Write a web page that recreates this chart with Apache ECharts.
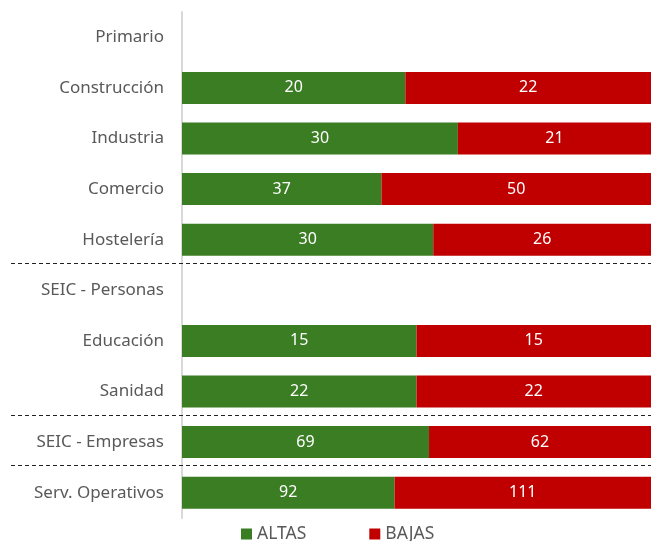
<!DOCTYPE html>
<html>
<head>
<meta charset="utf-8">
<script src="https://cdn.jsdelivr.net/npm/echarts@6/dist/echarts.min.js"></script>
<style>
html,body{margin:0;padding:0;background:#fff;}
#chart{width:651px;height:541px;}
</style>
</head>
<body>
<div id="chart"></div>
<script>
const categories = ['Primario','Construcción','Industria','Comercio','Hostelería','SEIC - Personas','Educación','Sanidad','SEIC - Empresas','Serv. Operativos'];
const altas = [null, 20, 30, 37, 30, null, 15, 22, 69, 92];
const bajas = [null, 22, 21, 50, 26, null, 15, 22, 62, 111];
const separatorsAfter = ['Hostelería', 'Sanidad', 'SEIC - Empresas'];

const pct = (arr, i) => {
  if (arr[i] == null) return null;
  const t = (altas[i] || 0) + (bajas[i] || 0);
  return arr[i] / t;
};
const altasPct = altas.map((v, i) => ({ value: pct(altas, i), raw: v }));
const bajasPct = bajas.map((v, i) => ({ value: pct(bajas, i), raw: v }));

const FONT = 'Noto Sans';
const chart = echarts.init(document.getElementById('chart'));
const labelCfg = {
  show: true,
  position: 'inside',
  color: '#ffffff',
  fontFamily: FONT,
  fontSize: 16,
  formatter: p => (p.data.raw == null ? '' : p.data.raw)
};
chart.setOption({
  animation: false,
  grid: { left: 182, right: 0, top: 12, bottom: 23 },
  legend: {
    left: 241, top: 525, padding: 0,
    icon: 'rect', itemWidth: 11, itemHeight: 11, itemGap: 63,
    textStyle: { color: '#595959', fontFamily: FONT, fontSize: 17.5 },
    data: ['ALTAS', 'BAJAS']
  },
  xAxis: {
    type: 'value', min: 0, max: 1,
    show: false
  },
  yAxis: {
    type: 'category', data: categories, inverse: true,
    axisLine: { show: true, lineStyle: { color: '#D9D9D9', width: 2 } },
    axisTick: { show: false },
    axisLabel: { color: '#595959', fontFamily: FONT, fontSize: 17, margin: 18 }
  },
  series: [
    { name: 'ALTAS', type: 'bar', stack: 'total', barWidth: 32, data: altasPct,
      itemStyle: { color: '#3B7D23' }, label: labelCfg },
    { name: 'BAJAS', type: 'bar', stack: 'total', barWidth: 32, data: bajasPct,
      itemStyle: { color: '#C00000' }, label: labelCfg }
  ]
});

const lines = separatorsAfter.map(name => {
  const i = categories.indexOf(name);
  const y1 = chart.convertToPixel({ yAxisIndex: 0 }, categories[i]);
  const y2 = chart.convertToPixel({ yAxisIndex: 0 }, categories[i + 1]);
  const y = Math.round((y1 + y2) / 2) - 1.5;
  return {
    type: 'line',
    shape: { x1: 11, y1: y, x2: 651, y2: y },
    style: { stroke: '#222222', lineWidth: 1.2, lineDash: [4, 3] },
    z: 10
  };
});
chart.setOption({ graphic: lines });
</script>
</body>
</html>
